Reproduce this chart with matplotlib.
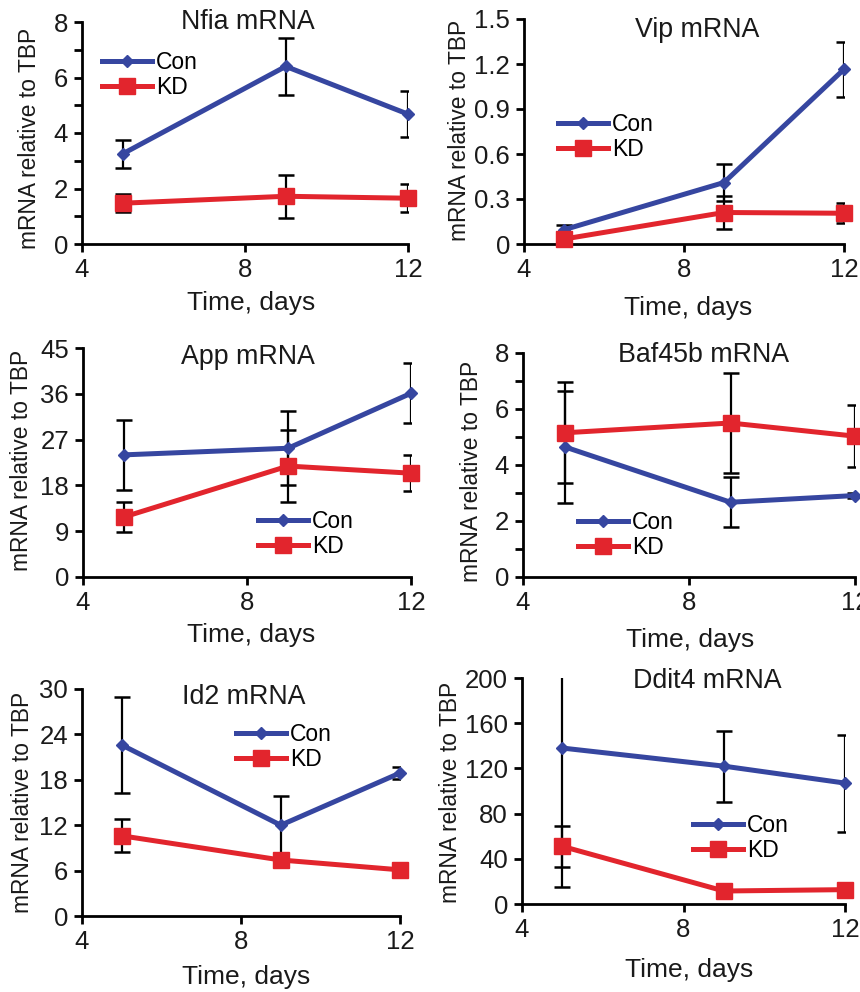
import matplotlib
matplotlib.use("Agg")
import matplotlib.pyplot as plt
from matplotlib.ticker import MultipleLocator, FuncFormatter

plt.rcParams['font.family'] = ['Liberation Sans', 'DejaVu Sans']

W, H = 860, 992
BLUE = '#3646a0'
RED = '#e2252d'
TXT = '#1a1a1a'

days = [5, 9, 12]
x_ticks = [4, 8, 12]

genes = ["Nfia mRNA", "Vip mRNA", "App mRNA", "Baf45b mRNA", "Id2 mRNA", "Ddit4 mRNA"]

con_vals = [
    [3.25, 6.4, 4.68],
    [0.095, 0.41, 1.165],
    [24.0, 25.3, 36.1],
    [4.65, 2.67, 2.91],
    [22.6, 12.0, 18.9],
    [138, 122, 107],
]
con_err = [
    [0.5, 1.03, 0.84],
    [0.03, 0.125, 0.185],
    [6.9, 7.3, 5.9],
    [2.0, 0.9, 0.1],
    [6.3, 3.8, 0.8],
    [123, 31.5, 43],
]
kd_vals = [
    [1.47, 1.72, 1.65],
    [0.033, 0.21, 0.205],
    [11.8, 21.8, 20.4],
    [5.15, 5.5, 5.03],
    [10.6, 7.4, 6.1],
    [51, 11.5, 12.7],
]
kd_err = [
    [0.33, 0.78, 0.5],
    [0.02, 0.107, 0.066],
    [3.0, 7.1, 3.5],
    [1.8, 1.8, 1.1],
    [2.2, 0.3, 0.3],
    [18, 2, 2],
]
y_max = [8, 1.5, 45, 8, 30, 200]
y_step = [2, 0.3, 9, 2, 6, 40]
y_minor = [1, None, None, 1, None, None]

# layout in pixels: (left, right, top, bottom)
axes_px = [(82, 408, 22, 244), (524, 844, 19, 244),
           (83, 411, 348, 577), (523, 855, 353, 577),
           (82, 400, 689, 916), (522, 845, 678, 904)]
title_px = [(248, 22), (697, 30), (248, 357), (704, 355), (244, 697), (707, 681)]
legend_px = [(102, 75), (558, 137), (258, 534), (578, 535), (236, 747), (693, 838)]
ylabel_px = [(30, 138), (460, 130), (22, 460), (472, 471), (23, 802), (450, 792)]
xlabel_px = [(251, 303), (688, 308), (251, 635), (690, 640), (246, 977), (689, 970)]


def fx(x):
    return x / W


def fy(y):
    return 1 - y / H


def fmt(v, pos):
    if abs(v) < 1e-9:
        return "0"
    if abs(v - round(v)) < 1e-9:
        return f"{int(round(v))}"
    return f"{v:.1f}"


fig = plt.figure(figsize=(W / 100, H / 100), dpi=100)

for i in range(6):
    l, r, t, b = axes_px[i]
    ax = fig.add_axes([fx(l), fy(b), (r - l) / W, (b - t) / H])

    ax.errorbar(days, con_vals[i], yerr=con_err[i], fmt='none', ecolor='black',
                elinewidth=1.6, capsize=5.5, capthick=1.8, zorder=1)
    ax.errorbar(days, kd_vals[i], yerr=kd_err[i], fmt='none', ecolor='black',
                elinewidth=1.6, capsize=5.5, capthick=1.8, zorder=1)
    ax.plot(days, con_vals[i], color=BLUE, lw=3.6, marker='D', ms=6,
            label='Con', clip_on=False, zorder=3)
    ax.plot(days, kd_vals[i], color=RED, lw=3.6, marker='s', ms=12,
            label='KD', clip_on=False, zorder=4)

    ax.set_xlim(4, 12)
    ax.set_ylim(0, y_max[i])
    ax.set_xticks(x_ticks)
    ax.yaxis.set_major_locator(MultipleLocator(y_step[i]))
    if y_minor[i]:
        ax.yaxis.set_minor_locator(MultipleLocator(y_minor[i]))
    ax.yaxis.set_major_formatter(FuncFormatter(fmt))

    for s in ['top', 'right']:
        ax.spines[s].set_visible(False)
    for s in ['left', 'bottom']:
        ax.spines[s].set_linewidth(2)
    ax.tick_params(which='both', direction='out', width=2, labelsize=18.5,
                   colors='black', labelcolor=TXT)
    ax.tick_params(which='major', length=6, pad=4)
    ax.tick_params(which='minor', length=6)

    ax.set_xlabel("Time, days", fontsize=19, color=TXT)
    ax.xaxis.set_label_coords(fx(xlabel_px[i][0]), fy(xlabel_px[i][1]),
                              transform=fig.transFigure)
    ax.xaxis.label.set_va('center')
    ax.set_ylabel("mRNA relative to TBP", fontsize=16.4, color=TXT)
    ax.yaxis.set_label_coords(fx(ylabel_px[i][0]), fy(ylabel_px[i][1]),
                              transform=fig.transFigure)
    ax.yaxis.label.set_va('center')

    fig.text(fx(title_px[i][0]), fy(title_px[i][1]), genes[i], fontsize=19.3,
             ha='center', va='center', color=TXT)

    ax.legend(loc='center left', bbox_to_anchor=(fx(legend_px[i][0]), fy(legend_px[i][1])),
              bbox_transform=fig.transFigure, frameon=False, fontsize=16.5,
              handlelength=2.2, handletextpad=0.15, borderpad=0, borderaxespad=0,
              labelspacing=0.12)

fig.savefig("out.png", dpi=100)
plt.close(fig)
